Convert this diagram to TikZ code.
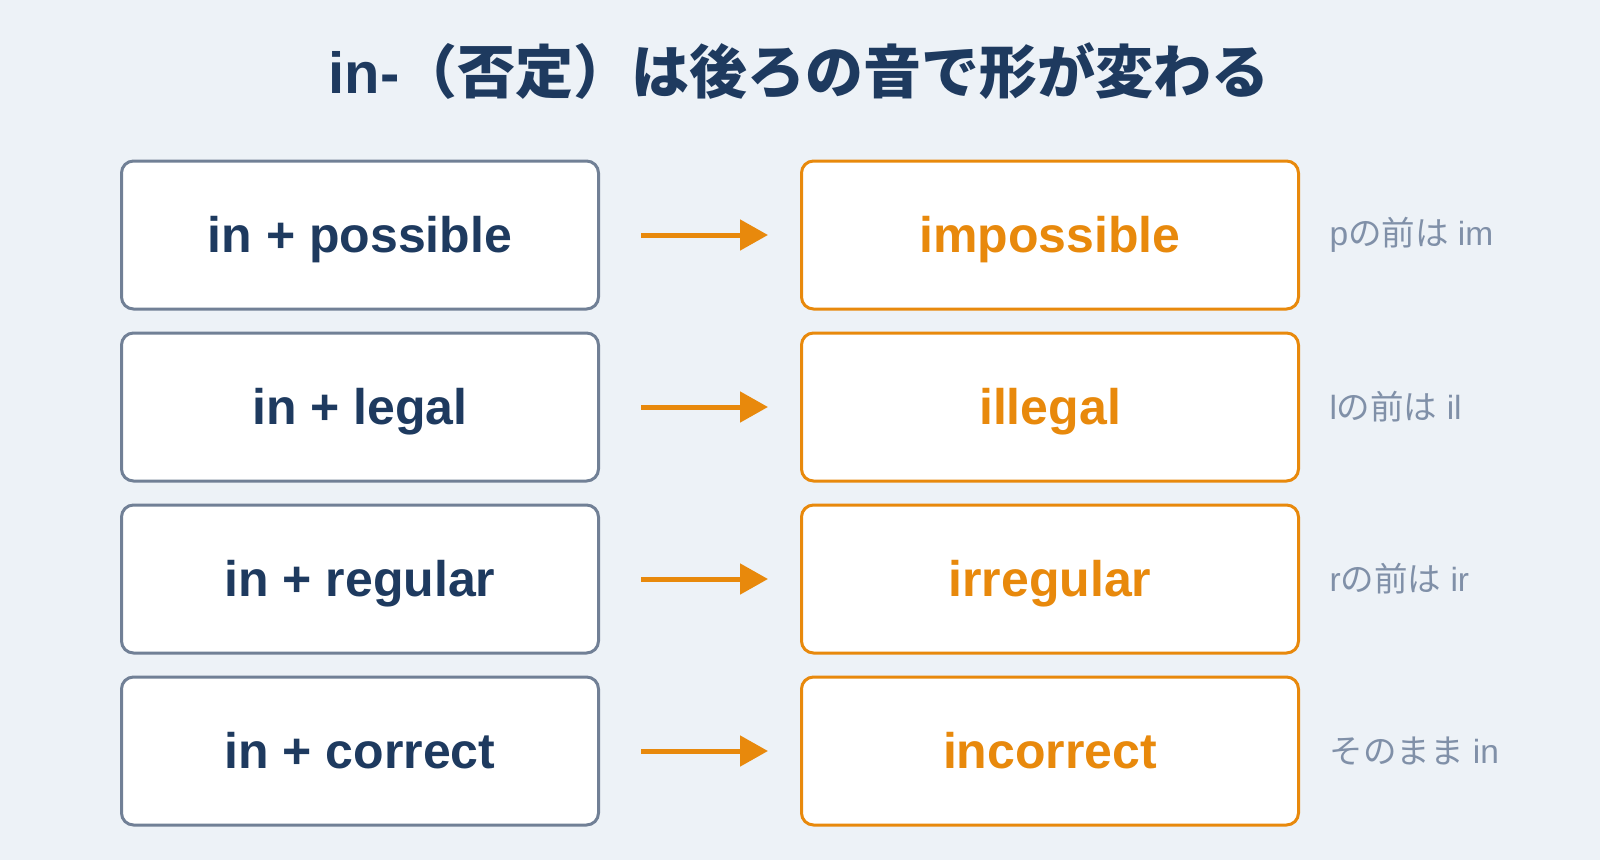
\documentclass[tikz,border=0pt]{standalone}
\usepackage{fontspec}
\setmainfont{Liberation Sans}
\newfontfamily\jpfont{Noto Sans CJK JP}
\usetikzlibrary{positioning, arrows.meta}

\definecolor{bgcol}{HTML}{EDF2F7}
\definecolor{navy}{HTML}{1E3A5F}
\definecolor{slate}{HTML}{718096}
\definecolor{accent}{HTML}{E8890C}
\definecolor{notegray}{HTML}{8090A8}

\begin{document}
\begin{tikzpicture}[
    x=1pt, y=-1pt,
    node distance=21pt and 200pt,
    srcbox/.style={rectangle, draw=slate, line width=3pt, fill=white, rounded corners=12pt, minimum width=477pt, minimum height=148pt, text height=38pt, text depth=4pt, font=\fontsize{50}{60}\selectfont\bfseries, text=navy},
    dstbox/.style={srcbox, draw=accent, minimum width=497pt, text=accent},
    arrow/.style={-{Triangle[length=28pt,width=30pt]}, line width=5pt, draw=accent, shorten <=41pt, shorten >=32pt},
    note/.style={font=\fontsize{33.5}{40}\selectfont, text=notegray}
]
\fill[bgcol] (0,0) rectangle (1600,860);
\useasboundingbox (0,0) rectangle (1600,860);

\node[font=\fontsize{58}{70}\selectfont\bfseries, text=navy] (title) at (799,71) {in-{\jpfont （否定）は後ろの音で形が変わる}};

% left column
\node[srcbox] (inpossible) at (360,235) {in + possible};
\node[srcbox, below=of inpossible] (inlegal) {in + legal};
\node[srcbox, below=of inlegal] (inregular) {in + regular};
\node[srcbox, below=of inregular] (incorrect) {in + correct};

% right column
\node[dstbox, right=of inpossible] (impossible) {impossible};
\node[dstbox, right=of inlegal] (illegal) {illegal};
\node[dstbox, right=of inregular] (irregular) {irregular};
\node[dstbox, right=of incorrect] (correct) {incorrect};

\draw[arrow] (inpossible) -- (impossible);
\draw[arrow] (inlegal) -- (illegal);
\draw[arrow] (inregular) -- (irregular);
\draw[arrow] (incorrect) -- (correct);

\node[note, right=26pt of impossible] {p{\jpfont の前は} im};
\node[note, right=26pt of illegal] {l{\jpfont の前は} il};
\node[note, right=26pt of irregular] {r{\jpfont の前は} ir};
\node[note, right=26pt of correct] {{\jpfont そのまま} in};

\end{tikzpicture}
\end{document}
